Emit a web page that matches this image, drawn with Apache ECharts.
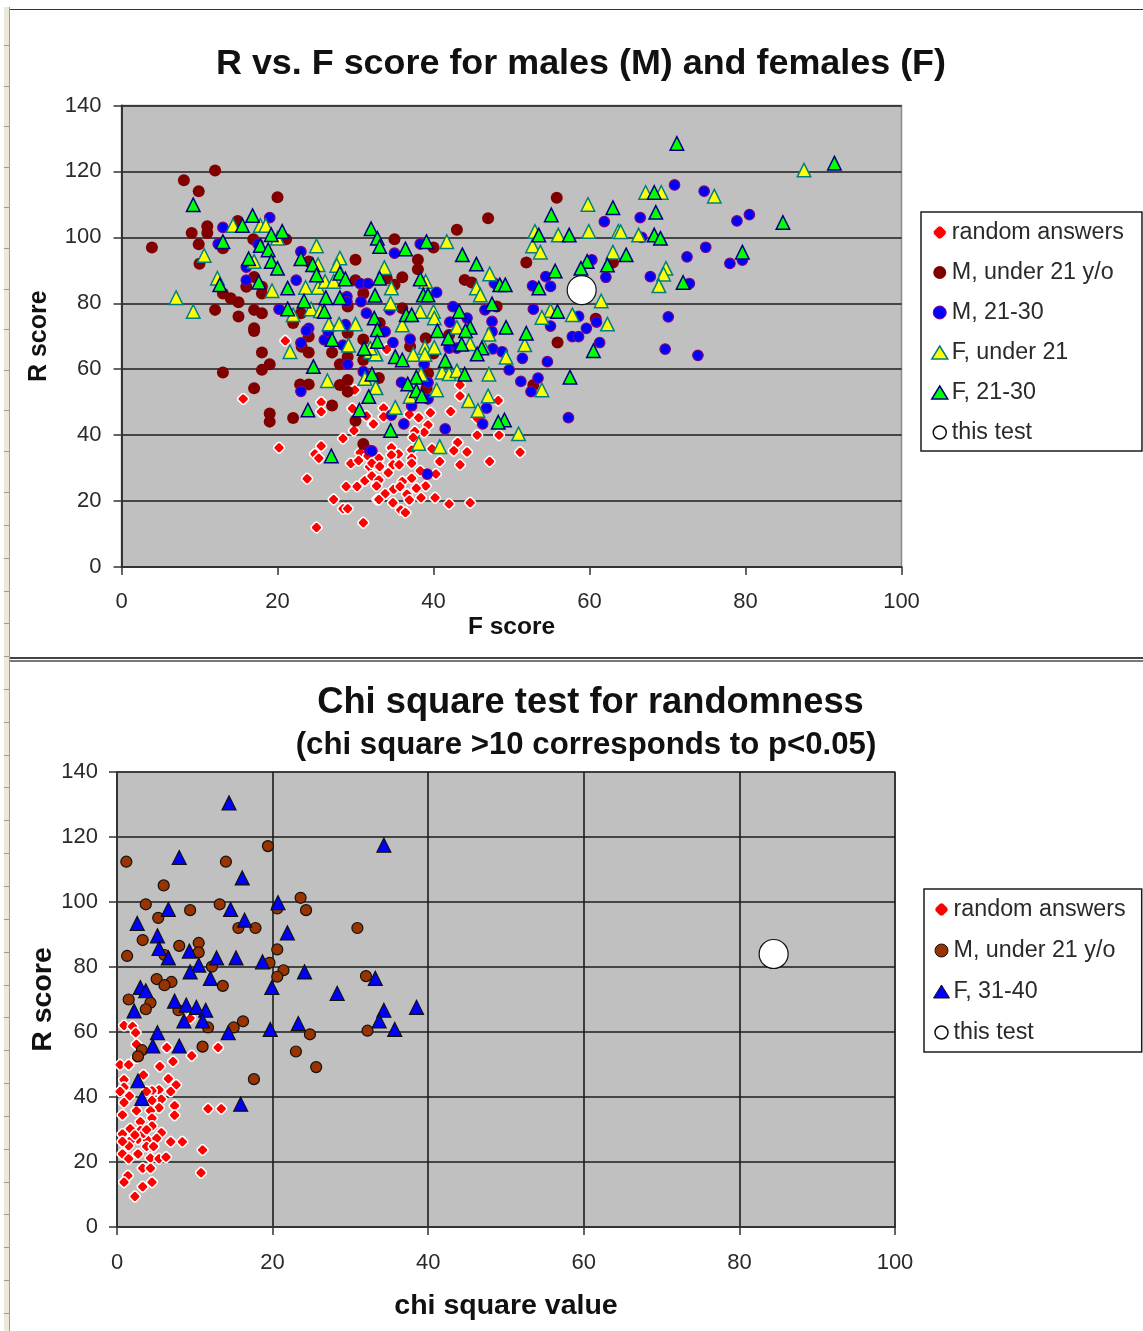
<!DOCTYPE html>
<html><head><meta charset="utf-8">
<style>html,body{margin:0;padding:0;background:#fff}#c{width:1143px;height:1331px}</style>
<script src="https://cdn.jsdelivr.net/npm/echarts@6/dist/echarts.min.js"></script>
</head><body><div id="c"></div>
<script>
const titleTop = "R vs. F score for males (M) and females (F)";
const titleBottom = "Chi square test for randomness";
const subtitleBottom = "(chi square >10 corresponds to p<0.05)";
const tickStepX = 20, tickStepY = 20;

const topRandom = [[21,68.6],[15.6,51],[25.6,50],[25.6,47.1],[29.6,48.1],[29.9,53.7],[31.4,45.8],[32.2,43.3],[29.8,41.4],[28.4,39],[20.2,36.2],[25.6,36.7],[24.8,34.3],[25.3,33],[30.6,34.7],[29.4,31.4],[30.4,32.3],[31.6,33.7],[33,32.7],[31.8,30.4],[32.6,31],[23.8,26.8],[32,27.6],[31.2,26.2],[32.8,26.4],[28.8,24.4],[30.2,24.4],[32.7,24.9],[27.2,20.5],[32.8,20.5],[28.4,17.7],[29,17.7],[31,13.4],[25,12],
[43.4,55.2],[43.4,51.9],[48.3,50.5],[42.2,47.2],[39.6,46.8],[38.1,45.3],[36.9,46.3],[33.6,48.2],[33.6,45.6],[32.3,43.4],[39.3,43.1],[38.8,40.9],[37.6,41.1],[37.4,39.3],[45.6,40],[48.4,40],[45.6,45.1],[43.1,37.8],[39.8,35.9],[42.6,35.3],[44.3,34.9],[51.1,34.8],[34.6,36.2],[35.5,34.3],[37.2,35.5],[37.2,33],[34.6,34],[33,33],[40.8,32],[43.4,31],[47.2,32],[34.8,31],[35.6,31],[37.2,31.5],[32.1,31.5],[33.1,30.5],[34.2,28.6],[38.3,29.2],[40.3,28.2],[32.1,27.6],[33,26.4],[37.2,26.9],[36,25.9],[32.7,24.6],[39,24.6],[37.8,23.9],[34.9,23.6],[35.7,24.4],[33.8,22.2],[36.6,22.1],[40.2,21],[38.4,21],[36.9,20.3],[33,20.5],[34.8,19.5],[42,19.1],[44.7,19.5],[35.8,17.3],[36.4,16.5],[34,66]];

const topMaleUnder21 = [[12,120.3],[8,117.3],[9.9,114],[20,112.2],[14.9,105],[11,103.4],[9,101.3],[11,101.3],[16.9,99.4],[21.1,99.4],[9.9,97.9],[3.9,96.9],[13,96.7],[10,92],[30,93.2],[17,88],[16,85],[18,85],[18,83],[13,83],[14,81.5],[15,80.3],[12,78],[15,76],[17,78],[18,77],[17,72.4],[24,92.7],[30,87],[31,83],[23,77],[22,74],[29,79],[29,71],
[18,65.1],[19,61.5],[18,59.8],[13,59],[17,54.2],[19,46.6],[19,44.1],[22,45.2],[27,49],[22.9,55.4],[24,55.4],[28,55.2],[29,56.7],[29,53.2],[28,61.5],[29,63.8],[31,62.8],[27,65.1],[24,65.1],[23.1,66.8],[24,69.9],[30,44.4],[31,37.3],[31,69],[17,71.6],
[43,102.3],[47,105.8],[35,99.4],[40,96.9],[38,93.2],[38,90.3],[36,87.9],[44,87.1],[44.9,86.3],[51.9,92.4],[63,92.4],[34,87.6],[35,85.6],[36,78.5],[48.1,79],[60.8,75.3],[55.9,68.1],[39,69.4],[37,66.9],[40,64.8],[33,57.3],[39.3,58.8],[39.1,54.2],[52.8,55.2],[33.1,74],[42,70.4],[55.8,112]];

const topMale2130 = [[13,103],[19,106],[12.4,98],[17.5,98],[23,95.7],[16,91],[16,87],[22.4,87],[20.2,78.2],[24,72.4],[28.9,82],[28.9,80.5],[30.6,86],[31.6,86],[30.7,80.5],[31.4,77],[28.7,73.5],[26.6,72],
[23,68],[26,68.9],[28.4,67.3],[29,61.5],[31,59.3],[23,53.3],[31.8,35.3],[26.5,71.4],[23.7,71.7],
[61.9,104.8],[38.3,98],[35,95.2],[54.4,88.1],[60.3,93.2],[47.8,86.1],[52.7,85.3],[55,85.1],[62.1,87.9],[40.4,83.3],[42.5,79],[46.6,78],[52.8,78.2],[58.6,76],[44.3,75.5],[47.5,74.5],[42.1,74.3],[55,73.1],[47.5,71.4],[59.6,72.4],[60.9,74.3],[57.8,69.9],[58.6,69.9],[37,69.1],[34.8,68.1],[61.3,68.1],[42,66.4],[43,66.4],[47.6,66.2],[48.8,65.3],[51.4,63.3],[54.6,62.3],[38.8,61.5],[49.7,59.8],[51.2,56.3],[53.4,57.3],[52.5,53.2],[35.9,56],[39.3,56],[39.3,51],[37.2,48.9],[34.6,46.1],[46.8,48.2],[36.2,43.4],[46.3,43.4],[41.5,41.9],[57.3,45.3],[32.1,35.2],[39.2,28.2],[34.4,78],[33.8,71.4],
[70.9,115.9],[74.7,114],[66.5,106],[78.9,105],[80.5,106.9],[66.7,100],[74.9,97],[72.5,94.1],[78,92.1],[79.6,93.1],[67.8,88.1],[72.8,86],[70.1,75.9],[69.7,66.1],[73.9,64.2]];

const topFemaleUnder21 = [[14.3,103.6],[17.8,103.6],[18.5,103.6],[20,99.7],[25,97.4],[10.6,94.5],[17,92.7],[25.2,91.7],[28,93.7],[27.6,91.5],[12.3,87.6],[19.3,83.8],[23.6,84.8],[25.2,84.8],[26.1,86.6],[27.2,86.6],[7,81.7],[9.2,77.5],[22,76.5],[24.3,78.3],[25.5,77.7],[26.6,73.7],[27.9,73.7],[30,73.7],
[21.6,65.3],[26.4,56.5],[29.1,67.3],[31.2,57.2],[31.9,65.3],[32.6,64.6],[32.6,54.5],
[41.7,98.7],[53,101.8],[56,100.7],[59.9,101.8],[63.7,101.8],[52.7,97.4],[53.7,95.5],[63,95.5],[33.7,90.8],[39,86.6],[34.6,84.6],[47.2,88.9],[45.5,84.6],[46,82.5],[61.5,80.7],[34.5,80],[38.3,77.5],[40,77.5],[40.1,75.5],[36,73.4],[55,77.8],[53.9,75.7],[57.8,76.5],[62.3,73.7],[43,72.7],[47.1,70.6],[51.7,67.4],[44.7,67.7],[46.4,66.9],[38.9,66.6],[40.1,66.6],[37.4,64.5],[38.9,64.5],[49.3,63.6],[32.6,64.6],[31.9,66.4],[41.1,59.1],[42,58.6],[43,59.5],[47.1,58.5],[38.4,58.5],[53.9,53.7],[32.6,54.4],[40.4,53.7],[37,51.7],[44.5,50.4],[47,51.9],[35.1,48.4],[45.7,47.5],[50.9,40.4],[38.1,37.5],[40.8,36.5],
[87.5,120.4],[67.2,113.6],[69.2,113.6],[76,112.5],[66.3,100.7],[64,101.7],[69.8,90.6],[69.5,88.8],[68.9,85.3],[59.8,110]];

const topFemale2130 = [[9.2,109.9],[16.8,106.6],[15.5,103.6],[20.6,101.8],[19.2,100.8],[13,98.7],[17.8,97.5],[18.8,96.2],[16.3,93.5],[19.2,92.7],[20,90.6],[23,93.5],[24.5,91.7],[25,88.6],[28,89.1],[28.7,87.4],[17.6,86.4],[12.6,85.6],[21.3,84.6],[32,102.6],[32.8,99.7],[33.1,97.2],[33.1,87.6],[32.5,82.4],[26.2,81.7],[28,81.7],[23.4,80.7],[21.3,78.3],[26,77.5],[32.4,75.5],[32.8,72],
[24.6,60.8],[27,69],[31.1,66.3],[32.1,58.5],[31.7,51.7],[30.5,47.6],[23.9,47.6],[26.9,33.7],[32.8,68.4],
[53.5,100.7],[57.4,100.7],[39.1,98.7],[36.4,96.5],[43.7,94.7],[45.5,91.9],[59.7,92.7],[58.9,90.6],[62.3,91.6],[64.7,94.7],[55.6,89.8],[38.3,87.4],[48.5,85.6],[49.2,85.6],[53.5,84.6],[38.7,82.5],[39.3,82.5],[47.5,79.8],[43.3,77.5],[36.5,76.5],[37.2,76.5],[55.9,77.5],[44.7,72.7],[44.1,71.7],[40.5,71.7],[49.3,72.7],[51.9,70.9],[41.9,69.4],[43.6,67.6],[46.2,66.4],[45.6,64.6],[35.1,63.8],[36,62.8],[60.5,65.6],[41.5,62.6],[37.8,57.6],[44,58.5],[36.7,55.5],[37.8,53.5],[38.5,51.9],[57.5,57.6],[49.1,44.6],[48.3,43.9],[34.5,41.4],[55.1,106.8],[63,109],
[71.2,128.5],[91.4,122.5],[68.3,113.6],[68.5,107.6],[84.8,104.5],[68.3,100.7],[69.1,99.7],[79.6,95.5],[72,86.3]];

const topThisTest = [[59,84]];

const botRandom = [[9.4,64.2],[0.9,62],[2,61.7],[2.4,59.8],[2.5,56.2],[6.4,55.2],[9.6,52.7],[13,55.2],[7.2,50.9],[5.5,49.4],[0.4,49.9],[1.5,49.9],[2.5,52],[3.4,46.8],[0.9,45.3],[0.9,43],[0.4,41.7],[6.6,45.6],[7.6,43.7],[6.9,41.7],[5.4,42.2],[4.5,41.9],[3.8,41.7],[1.6,40.3],[5.7,39.3],[4.5,38.9],[0.9,38.3],[5.4,36.7],[7.4,37.3],[2.5,35.8],[4.3,35.8],[0.7,34.5],[7.4,34.4],[11.7,36.4],[13.4,36.4],[4.5,33.5],[3,32.4],[4.5,31.1],[1.7,30.2],[3,29.7],[0.7,28.6],[5.7,29],[2.7,27],[3.9,26.8],[1.7,26.5],[6.9,26.2],[8.4,26.2],[5.1,27.3],[1.5,25],[0.7,26.3],[11,23.7],[0.7,22.5],[2.7,22.5],[4.3,21.2],[1.5,21],[5.4,21],[6.3,21.5],[3.3,18.1],[4.3,18.1],[10.8,16.7],[1.4,15.8],[0.9,13.8],[4.5,13.8],[3.3,12.4],[2.3,9.4],[3.8,24.8],[4.7,24.8],[3.4,28.8],[2.3,28.3],[3.8,29.9]];

const botMaleUnder21 = [[19.4,117.2],[1.2,112.4],[14,112.4],[6,105.1],[23.6,101.3],[24.3,97.5],[3.7,99.3],[13.2,99.3],[9.4,97.5],[5.3,95.1],[20.6,98],[15.6,92],[17.8,92],[30.9,92],[3.3,88.3],[10.5,87.4],[8,86.5],[10.5,84.5],[1.3,83.4],[20.6,85.4],[6.1,83.7],[19.6,81.3],[12.2,80.1],[21.4,79],[20.6,77],[32,77.2],[5.1,76.3],[7,75.4],[6.1,74.4],[13.6,74.2],[1.5,70],[4.3,69],[3.7,67],[7.9,66.7],[16.2,63.3],[11.7,61.4],[15,61.4],[24.8,59.3],[32.2,60.4],[11,55.5],[23,54],[3.2,54.4],[2.7,52.5],[25.6,49.2],[17.6,45.5]];

const botFemale3140 = [[14.4,130.5],[34.3,117.5],[8,113.7],[16.1,107.4],[20.7,99.8],[6.6,97.7],[14.6,97.7],[16.4,94.4],[2.6,93.4],[21.9,90.5],[5.2,89.6],[5.4,85.7],[6.6,82.8],[9.3,84.9],[12.8,82.8],[15.3,82.8],[18.7,81.6],[10.5,80.6],[9.4,78.5],[12,76.5],[24.1,78.5],[19.9,73.7],[33.2,76.5],[28.3,71.9],[3,73.7],[3.7,72.7],[7.4,69.5],[8.9,68.3],[10.2,67.6],[11.4,66.7],[2.2,66.5],[8.6,63.4],[11,63.4],[14.3,59.8],[19.7,60.8],[23.3,62.6],[34.3,66.7],[33.7,63.4],[35.7,60.8],[38.5,67.6],[5.2,59.8],[4.6,55.7],[8,55.7],[2.7,45],[3.2,39.6],[15.9,37.8]];

const botThisTest = [[84.4,84]];

const sideRuleRows = [45,86,126,167,207,248,289,329,370,410,451,492,525,558,591,623,656,689,722,755,787,820,853,886,919,952,985,1017,1050,1083,1116,1149,1182,1214,1247,1280,1313];

const font = '"Liberation Sans", Arial, sans-serif';
const ink = '#2a2a2a';
const roundedDiamond = 'path://M4 0H6L10 4V6L6 10H4L0 6V4Z';

function axis(gridIndex, pos, name, nameStyle, nameGap, showSplit, step, max, labelMargin, labelPadding) {
  return {
    type: 'value', gridIndex, position: pos, min: 0, max, interval: step,
    name, nameLocation: 'middle', nameGap, nameTextStyle: nameStyle, nameMoveOverlap: false,
    axisLine: {show: true, onZero: false, lineStyle: {color: '#333', width: 2}},
    axisTick: {show: true, inside: false, length: 8, lineStyle: {color: '#333', width: 1.5}},
    axisLabel: {color: ink, fontFamily: font, fontSize: 22, margin: labelMargin, padding: labelPadding},
    splitLine: {show: showSplit, lineStyle: {color: '#1c1c1c', width: 1.6}}
  };
}

function scatter(name, data, xi, symbol, size, color, border, bw) {
  return {type: 'scatter', name, data, xAxisIndex: xi, yAxisIndex: xi, symbol, symbolSize: size,
    itemStyle: {color, borderColor: border, borderWidth: bw, opacity: 1},
    emphasis: {disabled: true}, silent: true, animation: false};
}

function legendItem(name, icon, color, border, bw) {
  return {name, icon, itemStyle: {color, borderColor: border, borderWidth: bw}};
}
const legendBase = {orient: 'vertical', backgroundColor: '#fff', borderColor: '#1c1c1c', borderWidth: 1.5,
  borderRadius: 0, itemWidth: 16, itemHeight: 13, selectedMode: false,
  textStyle: {color: ink, fontFamily: font, fontSize: 23.3, padding: [0, 0, 0, -1]}};

const option = {
  animation: false,
  backgroundColor: '#fff',
  title: [
    {text: titleTop, left: 576, top: 41, textAlign: 'center',
     textStyle: {fontFamily: font, fontWeight: 'bold', fontSize: 35.9, color: '#111'}},
    {text: titleBottom, left: 585.5, top: 680, textAlign: 'center',
     textStyle: {fontFamily: font, fontWeight: 'bold', fontSize: 36.3, color: '#111'}},
    {text: subtitleBottom, left: 581, top: 725, textAlign: 'center',
     textStyle: {fontFamily: font, fontWeight: 'bold', fontSize: 31.2, color: '#111'}}
  ],
  grid: [
    {left: 121.5, top: 105.5, width: 780, height: 461.5, show: true, backgroundColor: '#c0c0c0', borderColor: '#8a8a8a', borderWidth: 1.5, containLabel: false},
    {left: 117, top: 772, width: 778, height: 455, show: true, backgroundColor: '#c0c0c0', borderColor: '#8a8a8a', borderWidth: 1.5, containLabel: false}
  ],
  xAxis: [
    axis(0, 'bottom', 'F score', {fontFamily: font, fontWeight: 'bold', fontSize: 24.5, color: '#111'}, 48, false, tickStepX, 100, 24, 0),
    axis(1, 'bottom', 'chi square value', {fontFamily: font, fontWeight: 'bold', fontSize: 28.5, color: '#111'}, 65, true, tickStepX, 100, 25, 0)
  ],
  yAxis: [
    axis(0, 'left', 'R score', {fontFamily: font, fontWeight: 'bold', fontSize: 25, color: '#111'}, 70, true, tickStepY, 140, 20, [6, 0, 0, 0]),
    axis(1, 'left', 'R score', {fontFamily: font, fontWeight: 'bold', fontSize: 28.5, color: '#111'}, 59, true, tickStepY, 140, 19, [4, 0, 0, 0])
  ],
  legend: [
    Object.assign({}, legendBase, {left: 921, top: 212, padding: [9, 18, 7, 10], itemGap: 17,
      data: [
        legendItem('random answers', roundedDiamond, '#ff0000', '#ffffff', 1),
        legendItem('M, under 21 y/o', 'circle', '#800000', '#800000', 0),
        legendItem('M, 21-30', 'circle', '#0000ff', '#800080', 1),
        legendItem('F, under 21', 'triangle', '#ffff00', '#008080', 1.5),
        legendItem('F, 21-30', 'triangle', '#00ff00', '#000080', 1.5),
        legendItem('this test', 'circle', '#ffffff', '#111111', 1.5)
      ]}),
    Object.assign({}, legendBase, {left: 924, top: 889, padding: [9, 16, 8, 9], itemGap: 18,
      data: [
        legendItem('random answers', roundedDiamond, '#ff0000', '#ffffff', 1),
        legendItem('M, under 21 y/o', 'circle', '#993300', '#111111', 1),
        legendItem('F, 31-40', 'triangle', '#0000ff', '#111111', 1),
        legendItem('this test', 'circle', '#ffffff', '#111111', 1.5)
      ]})
  ],
  series: [
    scatter('random answers', topRandom, 0, roundedDiamond, 10.5, '#ff0000', '#ffffff', 1.5),
    scatter('M, under 21 y/o', topMaleUnder21, 0, 'circle', 12, '#800000', '#800000', 0),
    scatter('M, 21-30', topMale2130, 0, 'circle', 10.5, '#0000ff', '#800080', 1.2),
    scatter('F, under 21', topFemaleUnder21, 0, 'triangle', 13.5, '#ffff00', '#008080', 1.5),
    scatter('F, 21-30', topFemale2130, 0, 'triangle', 13.5, '#00ff00', '#000080', 1.5),
    scatter('this test', topThisTest, 0, 'circle', 29, '#ffffff', '#111111', 1.2),
    scatter('random answers', botRandom, 1, roundedDiamond, 10.5, '#ff0000', '#ffffff', 1.5),
    scatter('M, under 21 y/o', botMaleUnder21, 1, 'circle', 11, '#993300', '#111111', 1.2),
    scatter('F, 31-40', botFemale3140, 1, 'triangle', 14, '#0000ff', '#111111', 1.2),
    scatter('this test', botThisTest, 1, 'circle', 29, '#ffffff', '#111111', 1.2)
  ],
  graphic: [
    {type: 'rect', z: 0, shape: {x: 4, y: 7, width: 6, height: 1324}, style: {fill: '#ece9d8'}},
    {type: 'rect', z: 0, shape: {x: 9, y: 7, width: 1, height: 1324}, style: {fill: '#9d9d8a'}},
    {type: 'rect', z: 0, shape: {x: 10, y: 9, width: 1133, height: 1}, style: {fill: '#333333'}},
    {type: 'rect', z: 0, shape: {x: 10, y: 657, width: 1133, height: 2}, style: {fill: '#444444'}},
    {type: 'rect', z: 0, shape: {x: 10, y: 660, width: 1133, height: 2}, style: {fill: '#777777'}}
  ].concat(sideRuleRows.map(y => ({type: 'rect', z: 0, shape: {x: 4, y, width: 5, height: 1}, style: {fill: '#9d9d8a'}})))
};
const chart = echarts.init(document.getElementById('c'), null, {renderer: 'canvas'});
chart.setOption(option);
</script></body></html>
